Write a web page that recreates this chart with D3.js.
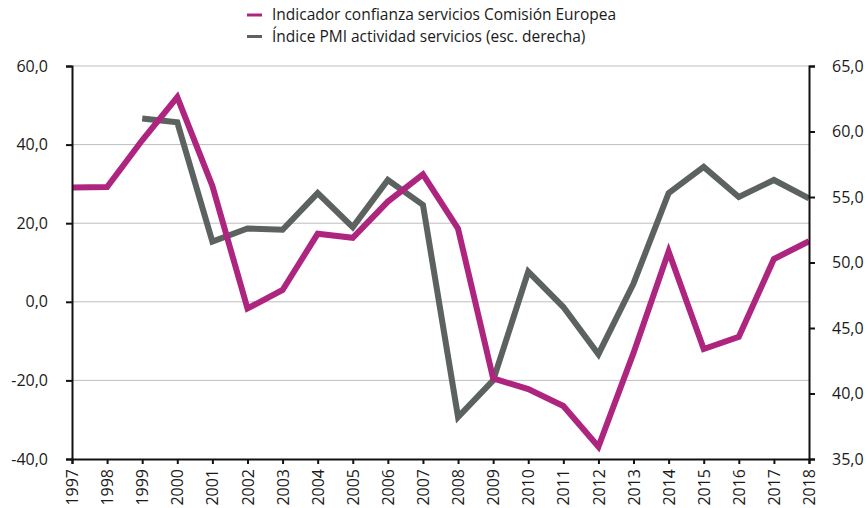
<!DOCTYPE html>
<html>
<head>
<meta charset="utf-8">
<script src="https://cdn.jsdelivr.net/npm/d3@7"></script>
<style>
  body { margin: 0; background: #fff; }
  svg { font-family: "Open Sans", sans-serif; }
</style>
</head>
<body>
<script>
// años y series
const years = d3.range(1997, 2019);
const confianza = [29.1, 29.2, 41.1, 52.1, 29.5, -1.7, 3.0, 17.3, 16.3, 25.5, 32.4, 18.6,
  -19.5, -22.2, -26.5, -36.9, -13.0, 12.8, -12.0, -8.9, 10.9, 15.4];
const pmi = [null, null, 61.0, 60.7, 51.6, 52.6, 52.5, 55.3, 52.7, 56.3, 54.4, 38.2,
  41.0, 49.3, 46.6, 43.0, 48.4, 55.3, 57.3, 55.0, 56.3, 54.9];
const leftTicks = [-40, -20, 0, 20, 40, 60];
const rightTicks = [35, 40, 45, 50, 55, 60, 65];
const seriesNames = ["Indicador confianza servicios Comisión Europea", "Índice PMI actividad servicios (esc. derecha)"];
const colors = ["#ae2580", "#5c6260"];

const W = 868, H = 508;
const m = { top: 66, right: 59, bottom: 49, left: 72 };

const svg = d3.select("body").append("svg").attr("width", W).attr("height", H);

const x = d3.scaleLinear().domain([1997, 2018]).range([m.left, W - m.right]);
const yL = d3.scaleLinear().domain([-40, 60]).range([H - m.bottom, m.top]);
const yR = d3.scaleLinear().domain([35, 65]).range([H - m.bottom, m.top]);

const fmt = d => d.toFixed(1).replace(".", ",");

// grid
svg.append("g").selectAll("line").data(leftTicks.slice(1)).join("line")
  .attr("x1", m.left).attr("x2", W - m.right)
  .attr("y1", d => yL(d)).attr("y2", d => yL(d))
  .attr("stroke", "#bdbdbd").attr("stroke-width", 1);

// lines
const lineL = d3.line().defined(d => d[1] != null).x(d => x(d[0])).y(d => yL(d[1]));
const lineR = d3.line().defined(d => d[1] != null).x(d => x(d[0])).y(d => yR(d[1]));

svg.append("path").datum(years.map((y, i) => [y, pmi[i]]))
  .attr("d", lineR).attr("fill", "none").attr("stroke", colors[1])
  .attr("stroke-width", 6).attr("stroke-linejoin", "miter");
svg.append("path").datum(years.map((y, i) => [y, confianza[i]]))
  .attr("d", lineL).attr("fill", "none").attr("stroke", colors[0])
  .attr("stroke-width", 6).attr("stroke-linejoin", "miter");

// axes
const axL = svg.append("g").attr("transform", `translate(${m.left},0)`)
  .call(d3.axisLeft(yL).tickValues(leftTicks).tickFormat(fmt).tickSize(6).tickPadding(18));
const axR = svg.append("g").attr("transform", `translate(${W - m.right},0)`)
  .call(d3.axisRight(yR).tickValues(rightTicks).tickFormat(fmt).tickSize(6).tickPadding(17));
const axB = svg.append("g").attr("transform", `translate(0,${H - m.bottom})`)
  .call(d3.axisBottom(x).tickValues(years).tickFormat(d3.format("d")).tickSize(5));

[axL, axR, axB].forEach(g => {
  g.select(".domain").attr("stroke", "#111").attr("stroke-width", 2);
  g.selectAll(".tick line").attr("stroke", "#111").attr("stroke-width", 2);
  g.selectAll("text").attr("fill", "#1a1a1a").style("font-size", "16px")
    .style("font-family", "'Open Sans', sans-serif");
});
axB.selectAll("text")
  .attr("transform", "rotate(-90)")
  .attr("x", -10).attr("y", 0).attr("dy", "0.35em")
  .attr("text-anchor", "end");

// legend
const lg = svg.append("g").attr("transform", "translate(247,15)");
seriesNames.forEach((n, i) => {
  const row = lg.append("g").attr("transform", `translate(0,${i * 21.5})`);
  row.append("line").attr("x1", 0).attr("x2", 15).attr("y1", 0).attr("y2", 0)
    .attr("stroke", colors[i]).attr("stroke-width", 3);
  row.append("text").attr("x", 25).attr("y", 0).attr("dy", "0.35em")
    .attr("fill", "#1a1a1a").style("font-size", "15.5px").text(n);
});
</script>
</body>
</html>
